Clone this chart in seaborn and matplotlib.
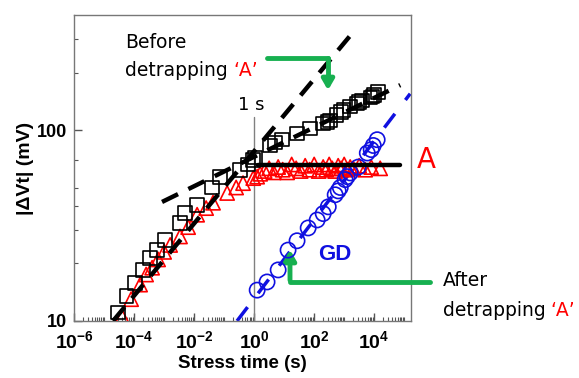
import numpy as np
import pandas as pd
import matplotlib
matplotlib.use("Agg")
import matplotlib.pyplot as plt
import seaborn as sns
from matplotlib.ticker import FixedLocator, NullFormatter, LogLocator

# ---- data ----
before_t = [10**-4.53, 10**-4.25, 10**-3.97, 10**-3.7, 10**-3.47, 10**-3.23, 10**-2.97, 10**-2.47,
            10**-2.3, 10**-1.9, 10**-1.4, 10**-1.13, 10**-0.47, 10**-0.2, 10**-0.03, 10**0.03,
            10**0.53, 10**0.7, 10**0.93, 10**1.43, 10**1.87, 10**2.3, 10**2.45, 10**2.53, 10**2.75,
            10**2.9, 10**2.97, 10**3.2, 10**3.43, 10**3.5, 10**3.6, 10**3.87, 10**3.95, 10**4.0, 10**4.13]
before_v = [11.1, 13.5, 15.8, 18.5, 21.4, 23.5, 26.5, 32.5,
            36.7, 40.5, 50, 56.8, 61.7, 66, 69.6, 72,
            83, 86, 89, 96, 102, 108, 110, 112, 120,
            124, 127, 133, 138, 140, 143, 148, 150, 153, 158]

after_a_t = [10**-4.4, 10**-4.1, 10**-3.8, 10**-3.6, 10**-3.4, 10**-3.2, 10**-3.0, 10**-2.8, 10**-2.47,
             10**-2.2, 10**-1.9, 10**-1.6, 10**-1.37, 10**-0.9, 10**-0.6, 10**-0.37, 10**-0.03,
             10**0.1, 10**0.2, 10**0.35, 10**0.5, 10**0.65, 10**0.8, 10**0.95, 10**1.1, 10**1.25,
             10**1.4, 10**1.55, 10**1.7, 10**1.85, 10**2.0, 10**2.15, 10**2.3, 10**2.4, 10**2.5,
             10**2.6, 10**2.7, 10**2.8, 10**2.9, 10**3.0, 10**3.1, 10**3.2, 10**3.3, 10**3.5,
             10**3.7, 10**3.9, 10**4.2]
after_a_v = [10.5, 13, 15.5, 17.5, 19, 21, 23, 25, 27.7,
             31, 36, 39, 41.6, 46.8, 50, 52.7, 56,
             57, 59, 61, 63, 60, 64, 62, 60, 66,
             63, 61, 65, 62, 66, 61, 64, 62, 66,
             63, 61, 65, 63, 66, 62, 64, 63, 65,
             62, 64, 63]

gd_t = [10**0.1, 10**0.43, 10**0.8, 10**1.13, 10**1.43, 10**1.8, 10**2.1, 10**2.3, 10**2.47, 10**2.7,
        10**2.8, 10**2.87, 10**3.03, 10**3.1, 10**3.2, 10**3.47, 10**3.77, 10**3.9, 10**3.97, 10**4.1]
gd_v = [14.5, 16, 18.5, 23.5, 26.3, 30.7, 33.8, 36.5, 39.6, 45.8,
        48, 50, 55, 57, 59.6, 64, 75.8, 79, 83, 89]

# fit / guide lines (endpoints)
fit_steep_t = [10**-4.7, 10**3.3]
fit_steep_v = [10.0, 326.0]
fit_shallow_t = [10**-3.07, 10**4.87]
fit_shallow_v = [42.0, 172.0]
fit_gd_t = [10**-0.57, 10**5.2]
fit_gd_v = [10.0, 155.0]
sat_t = [1.3, 7e4]
sat_v = [65.6, 65.6]
one_s_t = [1.0, 1.0]
one_s_v = [10.0, 117.0]

sns.set_style("white")
plt.rcParams["font.family"] = ["DejaVu Sans"]
plt.rcParams["text.color"] = "black"
plt.rcParams["axes.labelcolor"] = "black"
plt.rcParams["xtick.color"] = "black"
plt.rcParams["ytick.color"] = "black"
plt.rcParams["mathtext.fontset"] = "custom"
plt.rcParams["mathtext.rm"] = "Liberation Sans:bold"
plt.rcParams["mathtext.bf"] = "Liberation Sans:bold"
plt.rcParams["mathtext.it"] = "Liberation Sans:bold"

fig = plt.figure(figsize=(5.79, 3.78), dpi=100)
ax = fig.add_axes([0.128, 0.151, 0.582, 0.809])

# guide lines
sns.lineplot(x=one_s_t, y=one_s_v, ax=ax, color="#808080", lw=1.0, estimator=None, sort=False)
sns.lineplot(x=fit_gd_t, y=fit_gd_v, ax=ax, color="#1010e0", lw=2.5, estimator=None, sort=False)
ax.lines[-1].set_dashes([5, 5])

# data
sns.scatterplot(x=after_a_t, y=after_a_v, ax=ax, marker="^", s=105, facecolor="none",
                edgecolor="#ff0000", linewidth=1.2, zorder=3)
sns.scatterplot(x=before_t, y=before_v, ax=ax, marker="s", s=95, facecolor="none",
                edgecolor="black", linewidth=1.2, zorder=4)
sns.scatterplot(x=gd_t, y=gd_v, ax=ax, marker="o", s=120, facecolor="none",
                edgecolor="#1010e0", linewidth=1.2, zorder=4)

sns.lineplot(x=sat_t, y=sat_v, ax=ax, color="black", lw=3.2, estimator=None, sort=False)
ax.lines[-1].set_zorder(5)
sns.lineplot(x=fit_steep_t, y=fit_steep_v, ax=ax, color="black", lw=3.2, estimator=None, sort=False)
ax.lines[-1].set_dashes([4, 2.6]); ax.lines[-1].set_zorder(6)
sns.lineplot(x=fit_shallow_t, y=fit_shallow_v, ax=ax, color="black", lw=3.2, estimator=None, sort=False)
ax.lines[-1].set_dashes([4, 2.6]); ax.lines[-1].set_zorder(6)

ax.set_xscale("log")
ax.set_yscale("log")
ax.set_xlim(1e-6, 10**5.23)
ax.set_ylim(10, 400)

ax.xaxis.set_major_locator(FixedLocator([1e-6, 1e-4, 1e-2, 1e0, 1e2, 1e4]))
ax.xaxis.set_minor_locator(LogLocator(base=10, subs=np.arange(1, 10), numticks=30))
ax.xaxis.set_minor_formatter(NullFormatter())
ax.set_xticklabels([r"$10^{-6}$", r"$10^{-4}$", r"$10^{-2}$", r"$10^{0}$", r"$10^{2}$", r"$10^{4}$"])
ax.yaxis.set_major_locator(FixedLocator([10, 100]))
ax.yaxis.set_minor_locator(FixedLocator([20, 30, 40, 50, 70, 200, 300]))
ax.yaxis.set_minor_formatter(NullFormatter())
ax.set_yticklabels(["10", "100"], fontfamily="Liberation Sans", fontweight="bold", fontsize=13)
for lab in ax.get_xticklabels():
    lab.set_fontsize(14)
ax.tick_params(axis="x", which="major", pad=7)
ax.tick_params(axis="y", which="major", pad=5)
ax.tick_params(axis="both", which="major", direction="in", length=6, width=1, color="#555555",
               bottom=True, left=True)
ax.tick_params(axis="both", which="minor", direction="in", length=3, width=0.8, color="#555555",
               bottom=True, left=True)
for sp in ax.spines.values():
    sp.set_color("#777777")
    sp.set_linewidth(1.0)

ax.set_xlabel("Stress time (s)", fontfamily="Liberation Sans", fontweight="bold", fontsize=13.5, labelpad=2)
ax.set_ylabel("|\u0394Vt| (mV)", fontfamily="Liberation Sans", fontweight="bold", fontsize=14, labelpad=2)

# annotations in figure pixel coordinates
def fx(px): return px / 579.0
def fy(py): return 1 - py / 378.0

FS = 13.5
fig.text(fx(125), fy(42), "Before", fontsize=FS, va="center", ha="left")
t1 = fig.text(fx(125), fy(71), "detrapping", fontsize=FS, va="center", ha="left")
ax.annotate("\u2018A\u2019", xy=(1, 0.5), xycoords=t1, xytext=(4, 0), textcoords="offset points",
            fontsize=FS, va="center", ha="left", color="#ff0000")
fig.text(fx(238), fy(105), "1 s", fontsize=13, va="center", ha="left")
fig.text(fx(417), fy(160), "A", fontsize=20, va="center", ha="left", color="#ff0000")
fig.text(fx(318), fy(255), "GD", fontsize=16, va="center", ha="left", color="#1010e0",
         fontweight="bold", fontfamily="Liberation Sans")
fig.text(fx(443), fy(281), "After", fontsize=FS, va="center", ha="left")
t2 = fig.text(fx(443), fy(311), "detrapping", fontsize=FS, va="center", ha="left")
ax.annotate("\u2018A\u2019", xy=(1, 0.5), xycoords=t2, xytext=(3, 0), textcoords="offset points",
            fontsize=FS, va="center", ha="left", color="#ff0000")

green = "#17b050"
fig.add_artist(plt.Line2D([fx(267), fx(328)], [fy(58), fy(58)], color=green, lw=3.5))
fig.add_artist(plt.Line2D([fx(328), fx(328)], [fy(58), fy(80)], color=green, lw=3.5))
ax.annotate("", xy=(fx(328), fy(93)), xytext=(fx(328), fy(75)), xycoords="figure fraction",
            textcoords="figure fraction",
            arrowprops=dict(arrowstyle="-|>,head_length=0.6,head_width=0.35", color=green, lw=3.5))
fig.add_artist(plt.Line2D([fx(290), fx(430)], [fy(282), fy(282)], color=green, lw=3.5))
ax.annotate("", xy=(fx(290), fy(247)), xytext=(fx(290), fy(283)), xycoords="figure fraction",
            textcoords="figure fraction",
            arrowprops=dict(arrowstyle="-|>,head_length=0.6,head_width=0.35", color=green, lw=3.5))

fig.savefig("out.png", dpi=100, facecolor="white")
